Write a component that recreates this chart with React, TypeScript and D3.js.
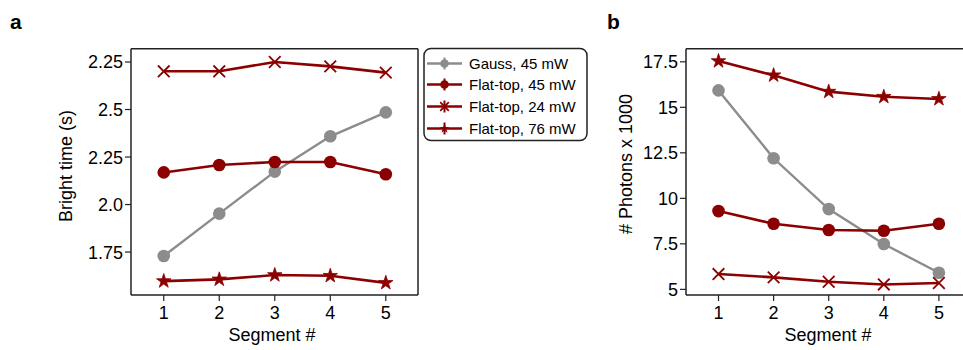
import React from 'react';
import * as d3 from 'd3';

const segments = [1, 2, 3, 4, 5];

// panel a: bright time (s)
const brightGauss45 = [1.729, 1.952, 2.173, 2.359, 2.485];
const brightFlat45 = [2.169, 2.208, 2.224, 2.224, 2.159];
const brightFlat24 = [2.701, 2.701, 2.75, 2.727, 2.694];
const brightFlat76 = [1.597, 1.606, 1.629, 1.625, 1.588];
const brightTicks = [1.75, 2.0, 2.25, 2.5, 2.75];
const brightTickLabels = ['1.75', '2.0', '2.25', '2.5', '2.25'];

// panel b: photons x 1000
const photonsGauss45 = [15.93, 12.2, 9.41, 7.49, 5.91];
const photonsFlat45 = [9.3, 8.6, 8.26, 8.22, 8.6];
const photonsFlat24 = [5.84, 5.66, 5.42, 5.27, 5.35];
const photonsFlat76 = [17.54, 16.76, 15.86, 15.58, 15.46];
const photonTicks = [5, 7.5, 10, 12.5, 15, 17.5];
const photonTickLabels = ['5', '7.5', '10', '12.5', '15', '17.5'];

const legendLabels = ['Gauss, 45 mW', 'Flat-top, 45 mW', 'Flat-top, 24 mW', 'Flat-top, 76 mW'];

const RED = '#8b0000';
const GRAY = '#8c8c8c';
const FONT = '"Liberation Sans", Arial, sans-serif';
const FS = 18;

type Marker = 'circle' | 'x' | 'star';

const seriesStyle: { color: string; marker: Marker }[] = [
  { color: GRAY, marker: 'circle' },
  { color: RED, marker: 'circle' },
  { color: RED, marker: 'x' },
  { color: RED, marker: 'star' },
];

const starPath = d3.symbol(d3.symbolStar, 65)() ?? '';
const xPath = d3.symbol(d3.symbolX, 90)() ?? '';

const MarkerShape: React.FC<{ kind: Marker; color: string; x: number; y: number }> = ({ kind, color, x, y }) => {
  if (kind === 'circle') return <circle cx={x} cy={y} r={6.3} fill={color} />;
  if (kind === 'x') return <path d={xPath} transform={`translate(${x},${y})`} fill="none" stroke={color} strokeWidth={1.8} />;
  return <path d={starPath} transform={`translate(${x},${y})`} fill={color} stroke={color} strokeWidth={0.8} />;
};

interface PanelProps {
  left: number;
  right: number;
  top: number;
  bottom: number;
  xDomain: [number, number];
  yDomain: [number, number];
  ticks: number[];
  tickLabels: string[];
  series: number[][];
  yTitle: string;
  yTitleX: number;
  yTitleY: number;
  titleX: number;
  letter: string;
  letterX: number;
  rightBorder: boolean;
}

const Panel: React.FC<PanelProps> = (p) => {
  const x = d3.scaleLinear().domain(p.xDomain).range([p.left, p.right]);
  const y = d3.scaleLinear().domain(p.yDomain).range([p.bottom, p.top]);
  const line = d3.line<number>().x((_, i) => x(segments[i])).y(d => y(d));
  const order = [0, 1, 2, 3];
  return (
    <g>
      <text x={p.letterX} y={29} fontSize={21} fontWeight="bold" fontFamily={FONT}>{p.letter}</text>
      {order.map(si => (
        <path key={`l${si}`} d={line(p.series[si]) ?? ''} fill="none"
          stroke={seriesStyle[si].color} strokeWidth={si === 0 ? 2.4 : 2.6} />
      ))}
      {order.map(si => p.series[si].map((v, i) => (
        <MarkerShape key={`m${si}-${i}`} kind={seriesStyle[si].marker} color={seriesStyle[si].color}
          x={x(segments[i])} y={y(v)} />
      )))}
      {/* frame */}
      <line x1={p.left} x2={p.left} y1={p.top} y2={p.bottom} stroke="#222" strokeWidth={1.5} />
      <line x1={p.left} x2={p.right} y1={p.bottom} y2={p.bottom} stroke="#222" strokeWidth={1.5} />
      <line x1={p.left} x2={p.right} y1={p.top} y2={p.top} stroke="#222" strokeWidth={1.5} />
      {p.rightBorder && <line x1={p.right} x2={p.right} y1={p.top} y2={p.bottom} stroke="#222" strokeWidth={1.5} />}
      {p.ticks.map((t, i) => (
        <g key={`yt${i}`}>
          <line x1={p.left - 6} x2={p.left} y1={y(t)} y2={y(t)} stroke="#222" strokeWidth={1.2} />
          <text x={p.left - 8} y={y(t)} dy="0.36em" textAnchor="end" fontSize={FS} fontFamily={FONT}>{p.tickLabels[i]}</text>
        </g>
      ))}
      {segments.map(s => (
        <g key={`xt${s}`}>
          <line x1={x(s)} x2={x(s)} y1={p.bottom} y2={p.bottom + 6} stroke="#222" strokeWidth={1.2} />
          <text x={x(s)} y={p.bottom + 24} textAnchor="middle" fontSize={FS} fontFamily={FONT}>{s}</text>
        </g>
      ))}
      <text x={p.titleX} y={341} textAnchor="middle" fontSize={FS} fontFamily={FONT}>Segment #</text>
      <text transform={`translate(${p.yTitleX},${p.yTitleY}) rotate(-90)`} textAnchor="middle"
        fontSize={FS} fontFamily={FONT}>{p.yTitle}</text>
    </g>
  );
};

const Legend: React.FC = () => {
  const rows = [63.5, 84.5, 106.5, 128.5];
  return (
    <g>
      <rect x={424} y={48.5} width={163} height={92} rx={7} fill="white" stroke="#222" strokeWidth={1.5} />
      {legendLabels.map((lab, i) => {
        const st = seriesStyle[i];
        const cy = rows[i];
        return (
          <g key={lab}>
            <line x1={427} x2={462} y1={cy} y2={cy} stroke={st.color} strokeWidth={2.4} />
            <line x1={444.5} x2={444.5} y1={cy - 6} y2={cy + 6} stroke={st.color} strokeWidth={2} />
            {st.marker === 'circle' && <circle cx={444.5} cy={cy} r={4.3} fill={st.color} />}
            {st.marker === 'x' && (
              <path d={d3.symbol(d3.symbolX, 50)() ?? ''} transform={`translate(444.5,${cy})`} fill="none" stroke={st.color} strokeWidth={1.8} />
            )}
            {st.marker === 'star' && <path d={d3.symbol(d3.symbolStar, 30)() ?? ''} transform={`translate(444.5,${cy})`} fill={st.color} />}
            <text x={469} y={cy} dy="0.36em" fontSize={15} fontFamily={FONT}>{lab}</text>
          </g>
        );
      })}
    </g>
  );
};

export default function App() {
  return (
    <svg width={963} height={350} style={{ position: 'absolute', left: 0, top: 0, background: 'white' }}>
      <rect width={963} height={350} fill="white" />
      <Panel left={131} right={418} top={48.7} bottom={295} xDomain={[0.41, 5.58]} yDomain={[1.524, 2.82]}
        ticks={brightTicks} tickLabels={brightTickLabels}
        series={[brightGauss45, brightFlat45, brightFlat24, brightFlat76]}
        yTitle="Bright time (s)" yTitleX={72} yTitleY={166} titleX={272} letter="a" letterX={10} rightBorder={true} />
      <Panel left={686} right={967} top={48.7} bottom={295} xDomain={[0.41, 5.51]} yDomain={[4.69, 18.22]}
        ticks={photonTicks} tickLabels={photonTickLabels}
        series={[photonsGauss45, photonsFlat45, photonsFlat24, photonsFlat76]}
        yTitle="# Photons x 1000" yTitleX={632} yTitleY={164} titleX={828} letter="b" letterX={607} rightBorder={false} />
      <Legend />
    </svg>
  );
}
